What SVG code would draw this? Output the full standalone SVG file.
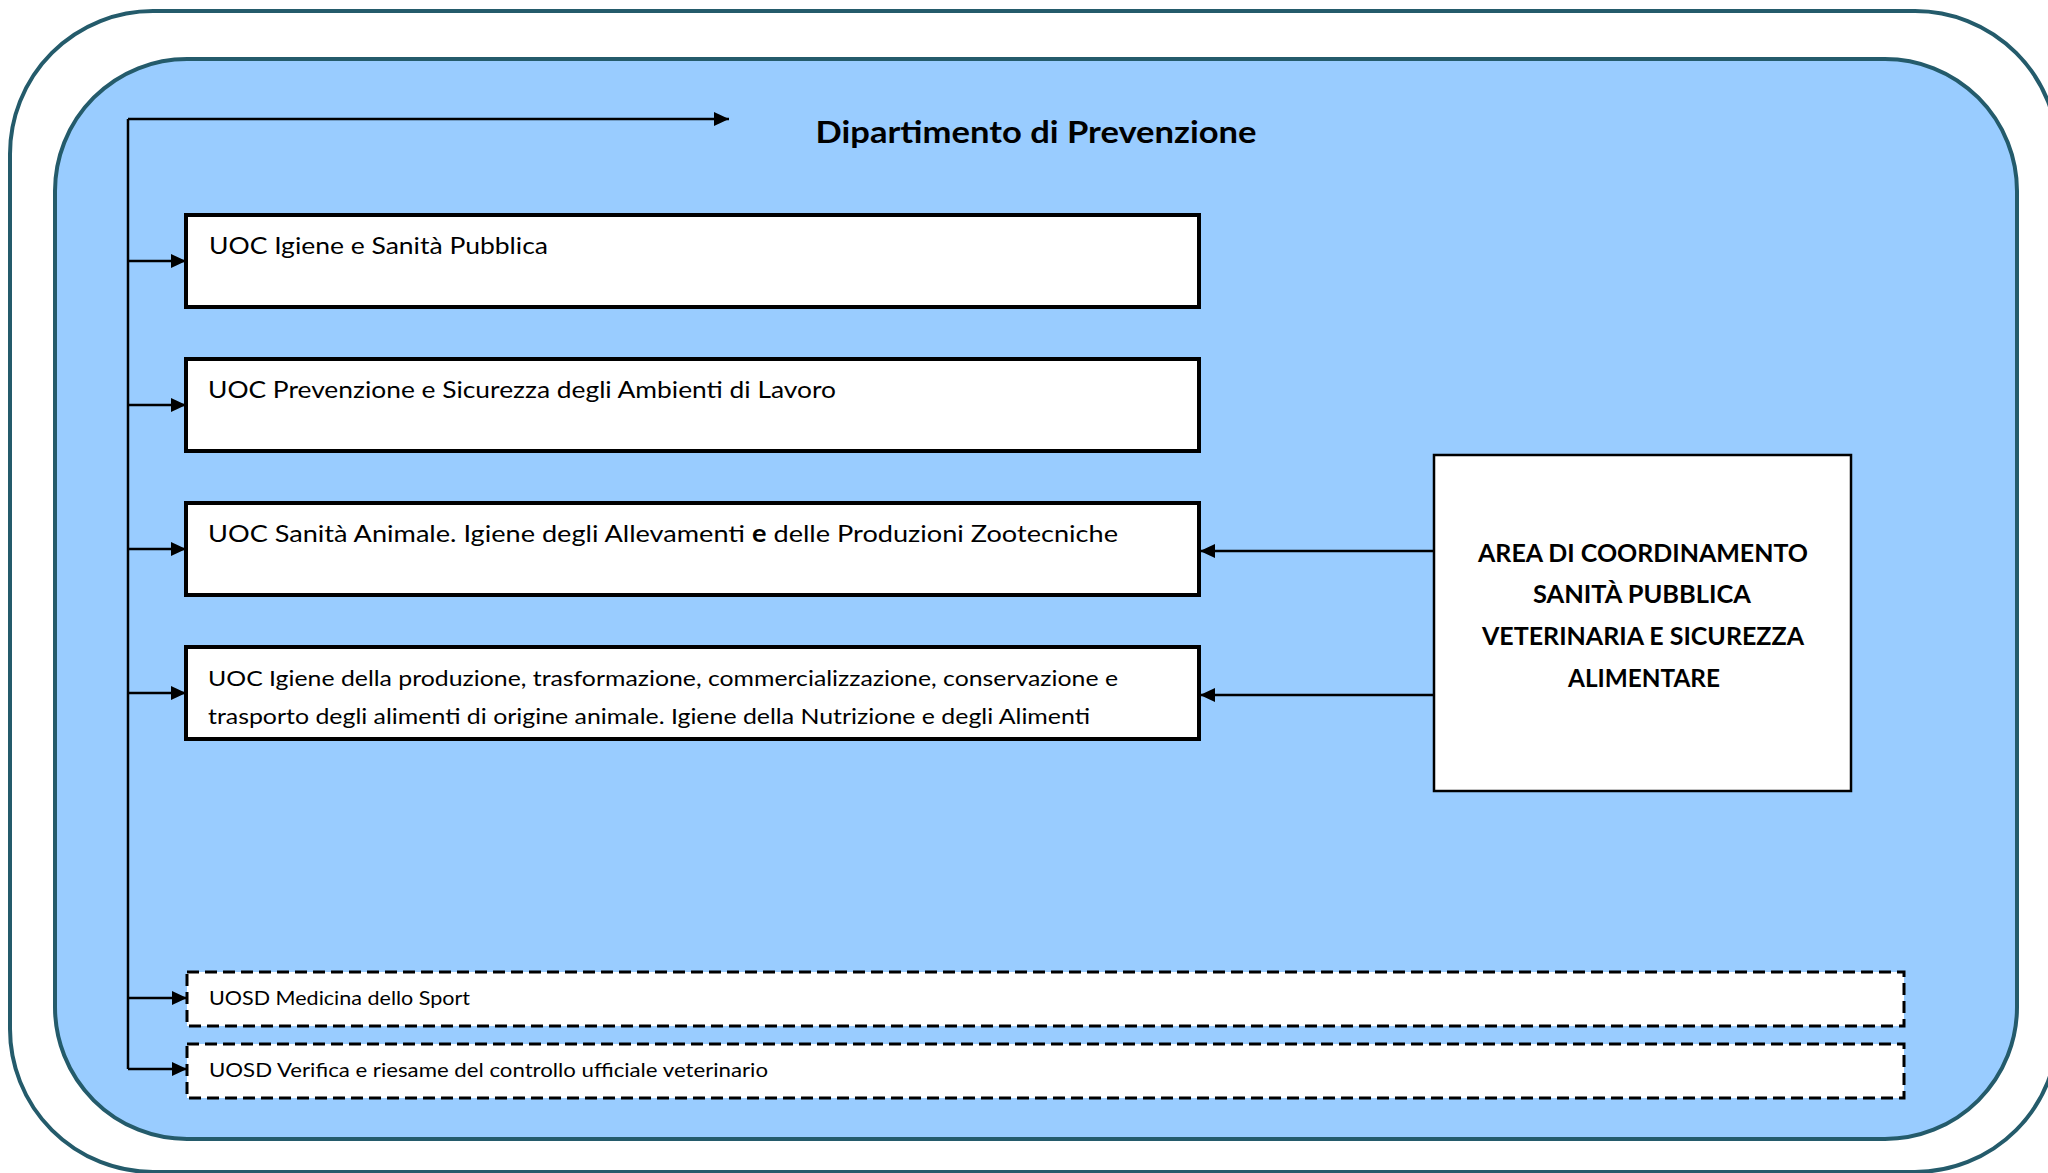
<svg xmlns="http://www.w3.org/2000/svg" width="2048" height="1173" viewBox="0 0 2048 1173">
<style>
.frame{fill:#ffffff;stroke:#245B6B;stroke-width:4}
.panel{fill:#99CCFF;stroke:#245B6B;stroke-width:4}
.box{fill:#ffffff;stroke:#000000;stroke-width:4}
.area{fill:#ffffff;stroke:#000000;stroke-width:2.5}
.dash{fill:#ffffff;stroke:#000000;stroke-width:3;stroke-dasharray:12 6}
.conn{fill:none;stroke:#000000;stroke-width:2.5}
.t{font-family:Lato,"Liberation Sans",sans-serif;fill:#000000}
.title{font-size:31px;font-weight:bold;text-anchor:middle}
.lbl{font-size:24px}
.lbl2{font-size:22px}
.small{font-size:20px}
.bold{font-size:25px;font-weight:bold;text-anchor:middle}
</style>
<defs>
<marker id="ah" markerUnits="userSpaceOnUse" markerWidth="16" markerHeight="16" refX="15" refY="7" orient="auto">
<path d="M0,0 L15,7 L0,14 z" fill="#000000"/>
</marker>
</defs>
<rect class="frame" x="10" y="11" width="2048" height="1161" rx="143" ry="143"/>
<rect class="panel" x="55" y="59" width="1962" height="1080" rx="132" ry="132"/>
<g id="title">
<text class="t title" x="1036" y="143" textLength="441" lengthAdjust="spacingAndGlyphs">Dipartimento di Prevenzione</text>
</g>
<g id="connectors">
<line class="conn" x1="128" y1="119" x2="128" y2="1069"/>
<line class="conn" x1="128" y1="119" x2="729" y2="119" marker-end="url(#ah)"/>
<line class="conn" x1="128" y1="261" x2="186" y2="261" marker-end="url(#ah)"/>
<line class="conn" x1="128" y1="405" x2="186" y2="405" marker-end="url(#ah)"/>
<line class="conn" x1="128" y1="549" x2="186" y2="549" marker-end="url(#ah)"/>
<line class="conn" x1="128" y1="693" x2="186" y2="693" marker-end="url(#ah)"/>
<line class="conn" x1="128" y1="998" x2="187" y2="998" marker-end="url(#ah)"/>
<line class="conn" x1="128" y1="1069" x2="187" y2="1069" marker-end="url(#ah)"/>
<line class="conn" x1="1434" y1="551" x2="1200" y2="551" marker-end="url(#ah)"/>
<line class="conn" x1="1434" y1="695" x2="1200" y2="695" marker-end="url(#ah)"/>
</g>
<g id="uoc-igiene-sanita">
<rect class="box" x="186" y="215" width="1013" height="92"/>
<text class="t lbl" x="209" y="254" textLength="339" lengthAdjust="spacingAndGlyphs">UOC Igiene e Sanità Pubblica</text>
</g>
<g id="uoc-prevenzione">
<rect class="box" x="186" y="359" width="1013" height="92"/>
<text class="t lbl" x="208" y="398" textLength="628" lengthAdjust="spacingAndGlyphs">UOC Prevenzione e Sicurezza degli Ambienti di Lavoro</text>
</g>
<g id="uoc-sanita-animale">
<rect class="box" x="186" y="503" width="1013" height="92"/>
<text class="t lbl" x="208" y="542" textLength="910" lengthAdjust="spacingAndGlyphs">UOC Sanità Animale. Igiene degli Allevamenti <tspan font-weight="bold">e</tspan> delle Produzioni Zootecniche</text>
</g>
<g id="uoc-igiene-alimenti">
<rect class="box" x="186" y="647" width="1013" height="92"/>
<text class="t lbl2" x="208" y="686" textLength="910" lengthAdjust="spacingAndGlyphs">UOC Igiene della produzione, trasformazione, commercializzazione, conservazione e</text>
<text class="t lbl2" x="208" y="724" textLength="882" lengthAdjust="spacingAndGlyphs">trasporto degli alimenti di origine animale. Igiene della Nutrizione e degli Alimenti</text>
</g>
<g id="area-coordinamento">
<rect class="area" x="1434" y="455" width="417" height="336"/>
<text class="t bold" x="1643" y="562" textLength="330" lengthAdjust="spacingAndGlyphs">AREA DI COORDINAMENTO</text>
<text class="t bold" x="1642" y="603" textLength="218" lengthAdjust="spacingAndGlyphs">SANITÀ PUBBLICA</text>
<text class="t bold" x="1643" y="645" textLength="322" lengthAdjust="spacingAndGlyphs">VETERINARIA E SICUREZZA</text>
<text class="t bold" x="1644" y="687" textLength="152" lengthAdjust="spacingAndGlyphs">ALIMENTARE</text>
</g>
<g id="uosd-medicina-sport">
<rect class="dash" x="187" y="972" width="1717" height="54"/>
<text class="t small" x="209" y="1005" textLength="261" lengthAdjust="spacingAndGlyphs">UOSD Medicina dello Sport</text>
</g>
<g id="uosd-verifica">
<rect class="dash" x="187" y="1044" width="1717" height="54"/>
<text class="t small" x="209" y="1077" textLength="559" lengthAdjust="spacingAndGlyphs">UOSD Verifica e riesame del controllo ufficiale veterinario</text>
</g>
</svg>
